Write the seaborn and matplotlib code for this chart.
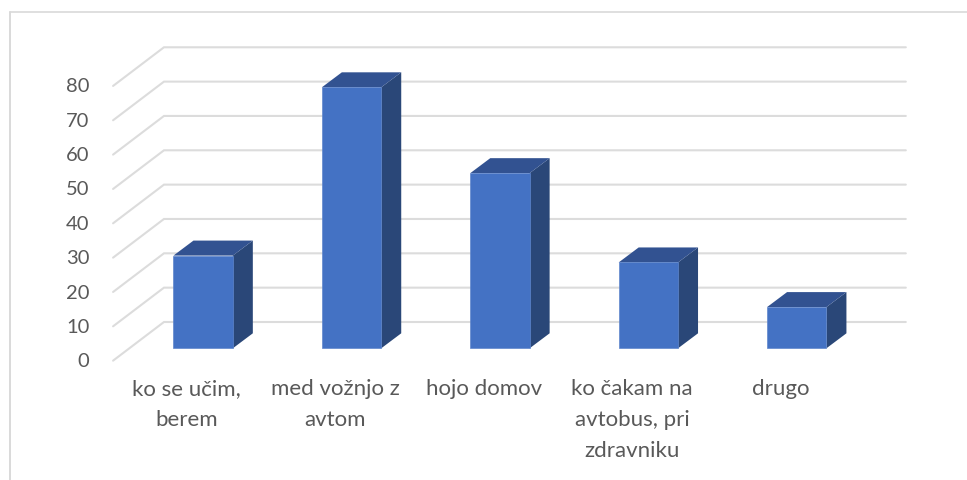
import matplotlib
matplotlib.use("Agg")
import matplotlib.pyplot as plt
from matplotlib.patches import Polygon
import seaborn as sns

categories = ["ko se učim,\nberem", "med vožnjo z\navtom", "hojo domov",
              "ko čakam na\navtobus, pri\nzdravniku", "drugo"]
values = [27, 76, 51, 25, 12]
y_ticks = [0, 10, 20, 30, 40, 50, 60, 70, 80]

sns.set_theme(style="white")
plt.rcParams["font.family"] = ["Lato", "DejaVu Sans"]

W, H = 967, 480
fig = plt.figure(figsize=(W / 100, H / 100), dpi=100)
ax = fig.add_axes([0, 0, 1, 1])

sns.barplot(x=list(range(5)), y=values, width=0.4, color="#4472C4", saturation=1,
            edgecolor="#5F86CC", linewidth=0.5, ax=ax, zorder=5)

# one category = 148.4 px, one value unit = 3.434 px, base of bars at y=348.3 px
ax.set_xlim(-203.15 / 148.4, (W - 203.15) / 148.4)
ax.set_ylim((348.3 - H) / 3.434, 348.3 / 3.434)
ax.axis("off")

# fake 3d: wall lines go from the front plane to the back plane
for v in y_ticks:
    ax.plot([-0.607, -0.264, 4.735], [v - 3.6, v + 7.66, v + 7.66],
            color="#DCDCDC", lw=1.5, zorder=1, solid_joinstyle="miter")
    ax.text(-0.765, v - 3.9, str(v), ha="right", va="center", fontsize=14.5, color="#595959")

dx, dy = 20 / 148.4, 15 / 3.434
for bar in ax.patches:
    x0, x1 = bar.get_x(), bar.get_x() + bar.get_width()
    top = bar.get_height()
    ax.add_patch(Polygon([(x1, 0), (x1 + dx, dy), (x1 + dx, top + dy), (x1, top)],
                         fc="#2A4778", ec="none", zorder=4))
    ax.add_patch(Polygon([(x0, top), (x0 + dx, top + dy), (x1 + dx, top + dy), (x1, top)],
                         fc="#325291", ec="none", zorder=4))

for i, label in enumerate(categories):
    ax.text(i - 0.11, -9.0, label, ha="center", va="top", fontsize=16, color="#595959",
            linespacing=1.67)

# outer border of the chart area
ax.plot([9.5 / 148.4 - 203.15 / 148.4] * 2, [(348.3 - H) / 3.434, (348.3 - 12) / 3.434],
        color="#D9D9D9", lw=1.4, zorder=0)
ax.plot([9.5 / 148.4 - 203.15 / 148.4, (W - 203.15) / 148.4], [(348.3 - 12) / 3.434] * 2,
        color="#D9D9D9", lw=1.2, zorder=0)

fig.savefig("out.png", dpi=100)
